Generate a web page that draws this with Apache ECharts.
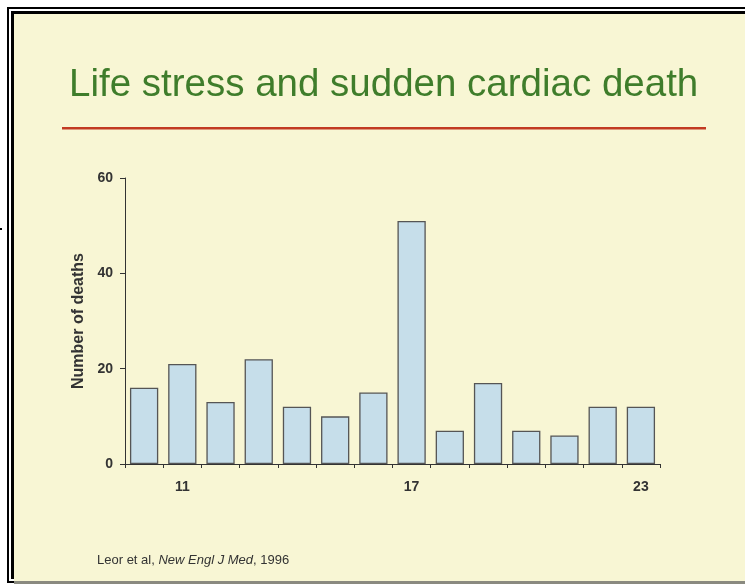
<!DOCTYPE html>
<html>
<head>
<meta charset="utf-8">
<script src="https://cdn.jsdelivr.net/npm/echarts@6/dist/echarts.min.js"></script>
<style>
html,body{margin:0;padding:0;background:#fff;}
#main{width:745px;height:584px;}
</style>
</head>
<body>
<div id="main"></div>
<script>
// hours of the day and number of deaths
var hours = ['10','11','12','13','14','15','16','17','18','19','20','21','22','23'];
var deaths = [16, 21, 13, 22, 12, 10, 15, 51, 7, 17, 7, 6, 12, 12];
var yTicks = [0, 20, 40, 60];
var shownHours = ['11', '17', '23'];

var dom = document.getElementById('main');
var myChart = echarts.init(dom, null, {renderer: 'canvas'});
var option = {
	backgroundColor: '#fff',
	title: {
		text: 'Life stress and sudden cardiac death',
		left: 64,
		top: 61,
		textStyle: {
			fontFamily: 'Liberation Sans',
			fontSize: 38.5,
			fontWeight: 'normal',
			color: '#3f7d2b'
		}
	},
	graphic: [
		// slide frame
		{type: 'rect', z: -10, shape: {x: 7, y: 7, width: 760, height: 576}, style: {fill: '#000'}},
		{type: 'rect', z: -9, shape: {x: 9, y: 9, width: 760, height: 572}, style: {fill: '#fff'}},
		{type: 'rect', z: -8, shape: {x: 11, y: 11, width: 760, height: 568}, style: {fill: '#000'}},
		{type: 'rect', z: -7, shape: {x: 14, y: 14, width: 760, height: 568}, style: {fill: '#f8f6d4'}},
		{type: 'rect', z: -6, shape: {x: 14, y: 581, width: 760, height: 3}, style: {fill: '#8a8a80'}},
		{type: 'rect', z: -6, shape: {x: 0, y: 228, width: 2, height: 2}, style: {fill: '#000'}},
		// red rule under the title
		{type: 'rect', z: 5, shape: {x: 62, y: 127, width: 644, height: 2.5}, style: {fill: '#c23a22'}},
		// source
		{
			type: 'text', left: 97, top: 554, z: 5,
			style: {
				text: '{n|Leor et al, }{i|New Engl J Med}{n|, 1996}',
				rich: {
					n: {fontFamily: 'Liberation Sans', fontSize: 13, fill: '#333'},
					i: {fontFamily: 'Liberation Sans', fontSize: 13, fontStyle: 'italic', fill: '#333'}
				}
			}
		}
	],
	grid: {
		left: 125,
		right: 85,
		top: 178,
		bottom: 120
	},
	xAxis: {
		type: 'category',
		data: hours,
		boundaryGap: true,
		axisLine: {show: true, lineStyle: {color: '#333', width: 1}},
		axisTick: {show: true, interval: 0, length: 4, lineStyle: {color: '#333'}},
		axisLabel: {
			interval: 0,
			margin: 16,
			fontFamily: 'Liberation Sans',
			fontSize: 14,
			fontWeight: 'bold',
			color: '#333',
			formatter: function (v) {
				return shownHours.indexOf(v) >= 0 ? v : '';
			}
		},
		splitLine: {show: false}
	},
	yAxis: {
		type: 'value',
		min: yTicks[0],
		max: yTicks[yTicks.length - 1],
		interval: yTicks[1] - yTicks[0],
		name: 'Number of deaths',
		nameLocation: 'middle',
		nameGap: 38,
		nameRotate: 90,
		nameTextStyle: {
			fontFamily: 'Liberation Sans',
			fontSize: 16,
			fontWeight: 'bold',
			color: '#333'
		},
		axisLine: {show: true, lineStyle: {color: '#333', width: 1}},
		axisTick: {show: true, length: 5, lineStyle: {color: '#333'}},
		axisLabel: {
			margin: 12,
			fontFamily: 'Liberation Sans',
			fontSize: 14,
			fontWeight: 'bold',
			color: '#333'
		},
		splitLine: {show: false}
	},
	series: [{
		type: 'bar',
		data: deaths,
		barCategoryGap: '26%',
		itemStyle: {
			color: '#c6deea',
			borderColor: '#555',
			borderWidth: 1.3
		}
	}]
};
if (option && typeof option === 'object') {
	myChart.setOption(option, true);
}
</script>
</body>
</html>
